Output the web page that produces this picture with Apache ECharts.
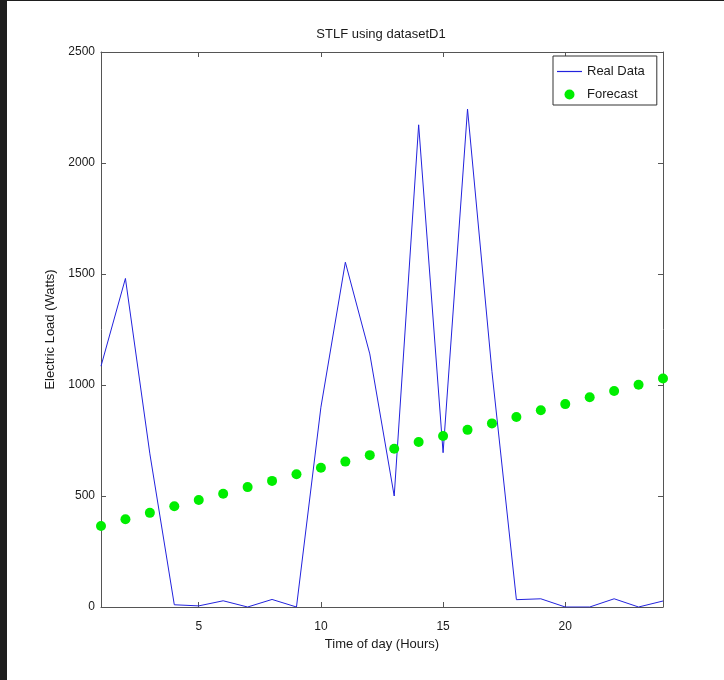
<!DOCTYPE html>
<html>
<head>
<meta charset="utf-8">
<script src="https://cdn.jsdelivr.net/npm/echarts@6/dist/echarts.min.js"></script>
<style>
  html, body { margin: 0; padding: 0; background: #1e1e1e; width: 724px; height: 680px; overflow: hidden; }
  #chart { position: absolute; left: 7px; top: 1px; width: 717px; height: 679px; background: #ffffff; }
</style>
</head>
<body>
<div id="chart"></div>
<script>
// Hourly electric load for one day, dataset D1
const hours = [1, 2, 3, 4, 5, 6, 7, 8, 9, 10, 11, 12, 13, 14, 15, 16, 17, 18, 19, 20, 21, 22, 23, 24];
const realData = [1085, 1480, 690, 10, 5, 28, 0, 34, 0, 900, 1553, 1140, 500, 2172, 695, 2243, 1060, 33, 37, 0, 0, 37, 0, 27];
const forecast = [365, 395, 424, 454, 482, 510, 540, 568, 598, 627, 655, 684, 713, 743, 770, 798, 827, 856, 886, 914, 945, 973, 1001, 1029];
const xTicks = [5, 10, 15, 20];

const FONT = 'Liberation Sans';
const AXIS_COLOR = '#555555';
const TEXT_COLOR = '#1a1a1a';
const LINE_COLOR = '#2222dd';
const DOT_COLOR = '#00ee00';

const chart = echarts.init(document.getElementById('chart'), null, { renderer: 'canvas' });

const frameAxis = {
  axisLine: { show: true, onZero: false, lineStyle: { color: AXIS_COLOR, width: 1 } },
  axisTick: { show: true, inside: true, length: 5, lineStyle: { color: AXIS_COLOR } },
  splitLine: { show: false }
};

chart.setOption({
  animation: false,
  backgroundColor: '#ffffff',
  title: {
    text: 'STLF using datasetD1',
    left: 369,
    textAlign: 'center',
    top: 22,
    textStyle: { fontFamily: FONT, fontSize: 13, fontWeight: 'normal', color: TEXT_COLOR }
  },
  legend: {
    left: 546,
    top: 55,
    orient: 'vertical',
    padding: [9, 12, 4, 4],
    itemGap: 10,
    itemWidth: 25,
    itemHeight: 10,
    symbolKeepAspect: true,
    borderColor: '#333333',
    borderWidth: 1,
    backgroundColor: '#ffffff',
    textStyle: { fontFamily: FONT, fontSize: 13, color: TEXT_COLOR },
    data: [
      { name: 'Real Data', icon: 'path://M0,0L25,0L25,1.2L0,1.2Z', itemStyle: { color: LINE_COLOR, opacity: 1 } },
      { name: 'Forecast', icon: 'circle', itemStyle: { color: DOT_COLOR, opacity: 1 } }
    ]
  },
  grid: { left: 94, right: 61, top: 51, bottom: 73 },
  xAxis: [
    Object.assign({
      type: 'value', position: 'bottom', min: 1, max: 24,
      name: 'Time of day (Hours)', nameLocation: 'middle', nameGap: 31,
      nameTextStyle: { fontFamily: FONT, fontSize: 13, color: TEXT_COLOR },
      axisLabel: { customValues: xTicks, margin: 14, fontFamily: FONT, fontSize: 12, color: TEXT_COLOR }
    }, frameAxis, {
      axisTick: Object.assign({}, frameAxis.axisTick, { customValues: xTicks })
    }),
    Object.assign({
      type: 'value', position: 'top', min: 1, max: 24,
      axisLabel: { show: false }
    }, frameAxis, {
      axisTick: Object.assign({}, frameAxis.axisTick, { customValues: xTicks })
    })
  ],
  yAxis: [
    Object.assign({
      type: 'value', position: 'left', min: 0, max: 2500, interval: 500,
      name: 'Electric Load (Watts)', nameLocation: 'middle', nameGap: 36,
      nameTextStyle: { fontFamily: FONT, fontSize: 13, color: TEXT_COLOR },
      axisLabel: { margin: 6, fontFamily: FONT, fontSize: 12, color: TEXT_COLOR, formatter: v => String(v) }
    }, frameAxis),
    Object.assign({
      type: 'value', position: 'right', min: 0, max: 2500, interval: 500,
      axisLabel: { show: false }
    }, frameAxis)
  ],
  series: [
    {
      name: 'Real Data',
      type: 'line',
      xAxisIndex: 0,
      yAxisIndex: 0,
      data: hours.map((h, i) => [h, realData[i]]),
      symbol: 'none',
      lineStyle: { color: LINE_COLOR, width: 1 },
      itemStyle: { color: LINE_COLOR },
      z: 2
    },
    {
      name: 'Forecast',
      type: 'scatter',
      xAxisIndex: 0,
      yAxisIndex: 0,
      data: hours.map((h, i) => [h, forecast[i]]),
      symbol: 'circle',
      symbolSize: 10,
      itemStyle: { color: DOT_COLOR, opacity: 1 },
      z: 3
    }
  ]
});
</script>
</body>
</html>
